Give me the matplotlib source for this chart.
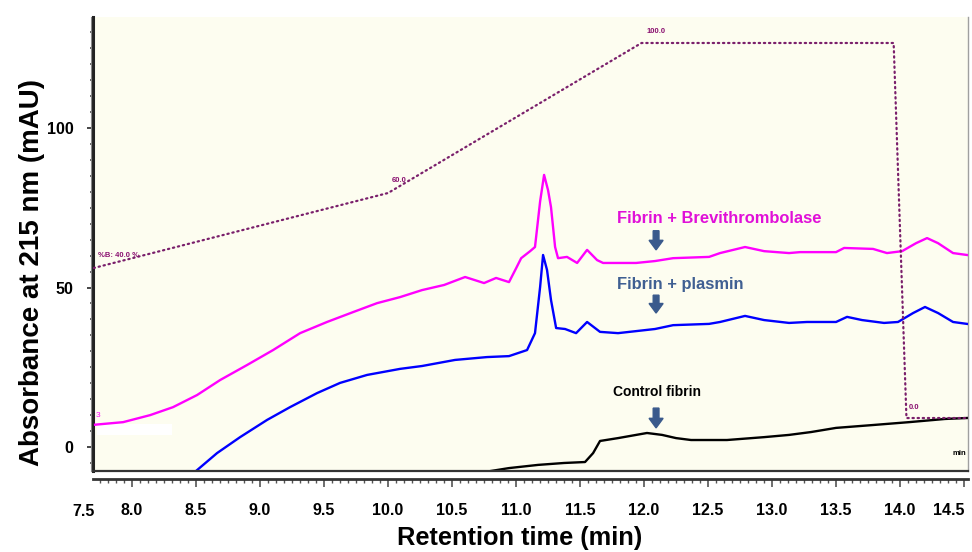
import matplotlib
matplotlib.use("Agg")
import matplotlib.pyplot as plt
from matplotlib.ticker import MultipleLocator, FixedLocator
from matplotlib.patches import FancyArrow, Rectangle
from matplotlib.lines import Line2D

plt.rcParams['font.family'] = ['Liberation Sans', 'DejaVu Sans']

# ---- chromatogram traces: retention time (min) vs absorbance (mAU) ----
brevi_time = [7.711, 7.930, 8.141, 8.320, 8.508, 8.688, 8.898, 9.102, 9.313,
              9.523, 9.727, 9.914, 10.094, 10.266, 10.438, 10.602, 10.750,
              10.844, 10.945, 11.000, 11.040, 11.110, 11.148, 11.188, 11.219,
              11.250, 11.273, 11.305, 11.328, 11.398, 11.477, 11.555, 11.633,
              11.680, 11.938, 12.086, 12.227, 12.508, 12.594, 12.789, 12.938,
              13.133, 13.219, 13.500, 13.563, 13.789, 13.898, 14.016, 14.125,
              14.211, 14.297, 14.414, 14.523]
brevi_abs = [7.0, 7.8, 10.0, 12.5, 16.3, 21.0, 25.7, 30.4, 35.7,
             39.2, 42.3, 45.1, 47.0, 49.2, 50.8, 53.3, 51.4,
             53.0, 51.7, 56.0, 59.2, 61.4, 62.7, 77.0, 85.3,
             80.5, 75.2, 62.7, 59.2, 59.6, 57.7, 61.8, 58.6,
             57.7, 57.7, 58.3, 59.2, 59.6, 60.8, 62.7, 61.4,
             60.8, 61.1, 61.1, 62.4, 62.1, 60.8, 61.4, 63.9,
             65.5, 63.9, 60.8, 60.2]

plasmin_time = [8.500, 8.664, 8.844, 9.055, 9.234, 9.445, 9.625, 9.836, 10.094,
                10.266, 10.523, 10.773, 10.945, 11.086, 11.148, 11.188, 11.211,
                11.242, 11.273, 11.313, 11.383, 11.469, 11.555, 11.656, 11.797,
                12.086, 12.227, 12.508, 12.594, 12.789, 12.938, 13.133, 13.273,
                13.500, 13.586, 13.703, 13.875, 13.984, 14.102, 14.195, 14.297,
                14.414, 14.523]
plasmin_abs = [-7.5, -1.9, 3.1, 8.5, 12.5, 16.9, 20.1, 22.6, 24.5,
               25.4, 27.3, 28.2, 28.5, 30.4, 35.7, 50.2, 60.2,
               55.5, 46.1, 37.3, 37.0, 35.7, 39.2, 36.1, 35.7,
               37.0, 38.2, 38.6, 39.2, 41.1, 39.8, 38.9, 39.2,
               39.2, 40.8, 39.8, 38.9, 39.2, 42.0, 43.9, 42.0,
               39.2, 38.6]

control_time = [10.805, 10.945, 11.172, 11.375, 11.539, 11.602, 11.656, 11.797,
                11.938, 12.023, 12.141, 12.250, 12.367, 12.648, 12.938, 13.133,
                13.305, 13.500, 13.789, 14.070, 14.352, 14.523]
control_abs = [-7.5, -6.6, -5.6, -5.0, -4.7, -1.9, 1.9, 2.8,
               3.8, 4.4, 3.8, 2.8, 2.2, 2.2, 3.1, 3.8,
               4.7, 6.0, 6.9, 7.8, 8.8, 9.1]

# ---- solvent gradient program (%B) ----
grad_time = [7.70, 10.00, 11.98, 13.95, 14.05, 14.55]
grad_pct_b = [40.0, 60.0, 100.0, 100.0, 0.0, 0.0]

x_ticks = [8.0, 8.5, 9.0, 9.5, 10.0, 10.5, 11.0, 11.5, 12.0, 12.5, 13.0, 13.5, 14.0, 14.5]
y_ticks = [0, 50, 100]

fig = plt.figure(figsize=(9.72, 5.52), dpi=100)
ax = fig.add_axes([0.0957, 0.1467, 0.9002, 0.8225])
ax.set_facecolor('#FDFDF0')
ax.set_xlim(7.695, 14.531)
ax.set_ylim(-7.52, 134.8)

# traces
ax.plot(brevi_time, brevi_abs, color='#FF00FF', lw=1.7, zorder=4)
ax.plot(plasmin_time, plasmin_abs, color='#0000FF', lw=1.7, zorder=4)
ax.plot(control_time, control_abs, color='black', lw=1.7, zorder=4)

# white patch near the start of the upper trace
ax.add_patch(Rectangle((7.727, 3.8), 0.586, 3.4, facecolor='white',
                       edgecolor='none', zorder=2))
ax.text(7.715, 9.5, '3', color='#FF00FF', fontsize=6, zorder=5)

# gradient on its own scale
axb = ax.twinx()
axb.set_ylim(-14.13, 106.93)
axb.plot(grad_time, grad_pct_b, color='#7a1f6b', lw=1.6,
         linestyle=(0, (0.6, 1.7)), dash_capstyle='round', zorder=3)
axb.set_yticks([])
for s in axb.spines.values():
    s.set_visible(False)
gkw = dict(color='#8a1070', fontsize=5.5, fontweight='bold')
axb.text(7.73, 42.5, '%B: 40.0 %', ha='left', va='bottom', **gkw)
axb.text(10.03, 62.5, '60.0', ha='left', va='bottom', **gkw)
axb.text(12.02, 102.0, '100.0', ha='left', va='bottom', **gkw)
axb.text(14.07, 2.0, '0.0', ha='left', va='bottom', **gkw)
axb.text(14.52, -10.5, 'min', ha='right', va='bottom', color='black',
         fontsize=5.5, fontweight='bold')

# annotations
arrow_col = '#3A5A8C'
arrow_x = 12.094
ax.text(12.59, 71.5, 'Fibrin + Brevithrombolase', color='#E010D8',
        fontsize=11.9, fontweight='bold', ha='center', va='center', zorder=6)
ax.text(12.28, 51.1, 'Fibrin + plasmin', color='#3F5F92',
        fontsize=11.9, fontweight='bold', ha='center', va='center', zorder=6)
ax.text(12.10, 17.2, 'Control fibrin', color='black',
        fontsize=10, fontweight='bold', ha='center', va='center', zorder=6)
for y_tail, y_tip in [(67.8, 61.8), (47.6, 42.0), (12.2, 6.0)]:
    ax.add_patch(FancyArrow(arrow_x, y_tail, 0, y_tip - y_tail, width=0.045,
                            head_width=0.11, head_length=3.0,
                            length_includes_head=True, color=arrow_col,
                            zorder=6))

# axes styling
ax.spines['top'].set_visible(False)
ax.spines['right'].set_color('#A0A0A0')
ax.spines['right'].set_linewidth(1.0)
ax.spines['left'].set_linewidth(2.2)
ax.spines['left'].set_color('#222222')
ax.spines['bottom'].set_position(('outward', 6))
ax.spines['bottom'].set_linewidth(2.0)
ax.spines['bottom'].set_color('#333333')
ax.plot([0, 1], [0, 0], transform=ax.transAxes, color='#333333', lw=1.6,
        clip_on=False, zorder=7)
fig.add_artist(Line2D([90.5 / 972, 90.5 / 972], [1 - 471 / 552, 1 - 17 / 552],
                      color='#888888', lw=0.8))

ax.xaxis.set_major_locator(FixedLocator(x_ticks))
ax.xaxis.set_minor_locator(MultipleLocator(0.0625))
ax.set_xticklabels([f'{v:.1f}' for v in x_ticks])
ax.tick_params(axis='x', which='major', direction='out', length=6, width=1.2,
               color='#555555', pad=11, labelsize=11.5)
ax.tick_params(axis='x', which='minor', direction='out', length=3, width=1.0,
               color='#555555')
ax.text(7.625, -0.09, '7.5', transform=ax.get_xaxis_transform(), ha='center',
        va='center', fontsize=11.5, fontweight='bold', clip_on=False)

ax.yaxis.set_major_locator(FixedLocator(y_ticks))
ax.yaxis.set_minor_locator(MultipleLocator(5))
ax.tick_params(axis='y', which='major', direction='out', length=4, width=1.4,
               color='#444444', pad=10, labelsize=11.5)
ax.tick_params(axis='y', which='minor', direction='out', length=2, width=1.4,
               color='#666666')
for lab in ax.get_xticklabels() + ax.get_yticklabels():
    lab.set_fontweight('bold')
ax.get_xticklabels()[-1].set_horizontalalignment('right')

ax.set_xlabel('Retention time (min)', fontsize=18.3, fontweight='bold',
              va='center')
ax.xaxis.set_label_coords(0.488, -0.148)
ax.set_ylabel('Absorbance at 215 nm (mAU)', fontsize=20, fontweight='bold')
ax.yaxis.set_label_coords(-0.055, 0.438)

fig.savefig('out.png', dpi=100, facecolor='white')
